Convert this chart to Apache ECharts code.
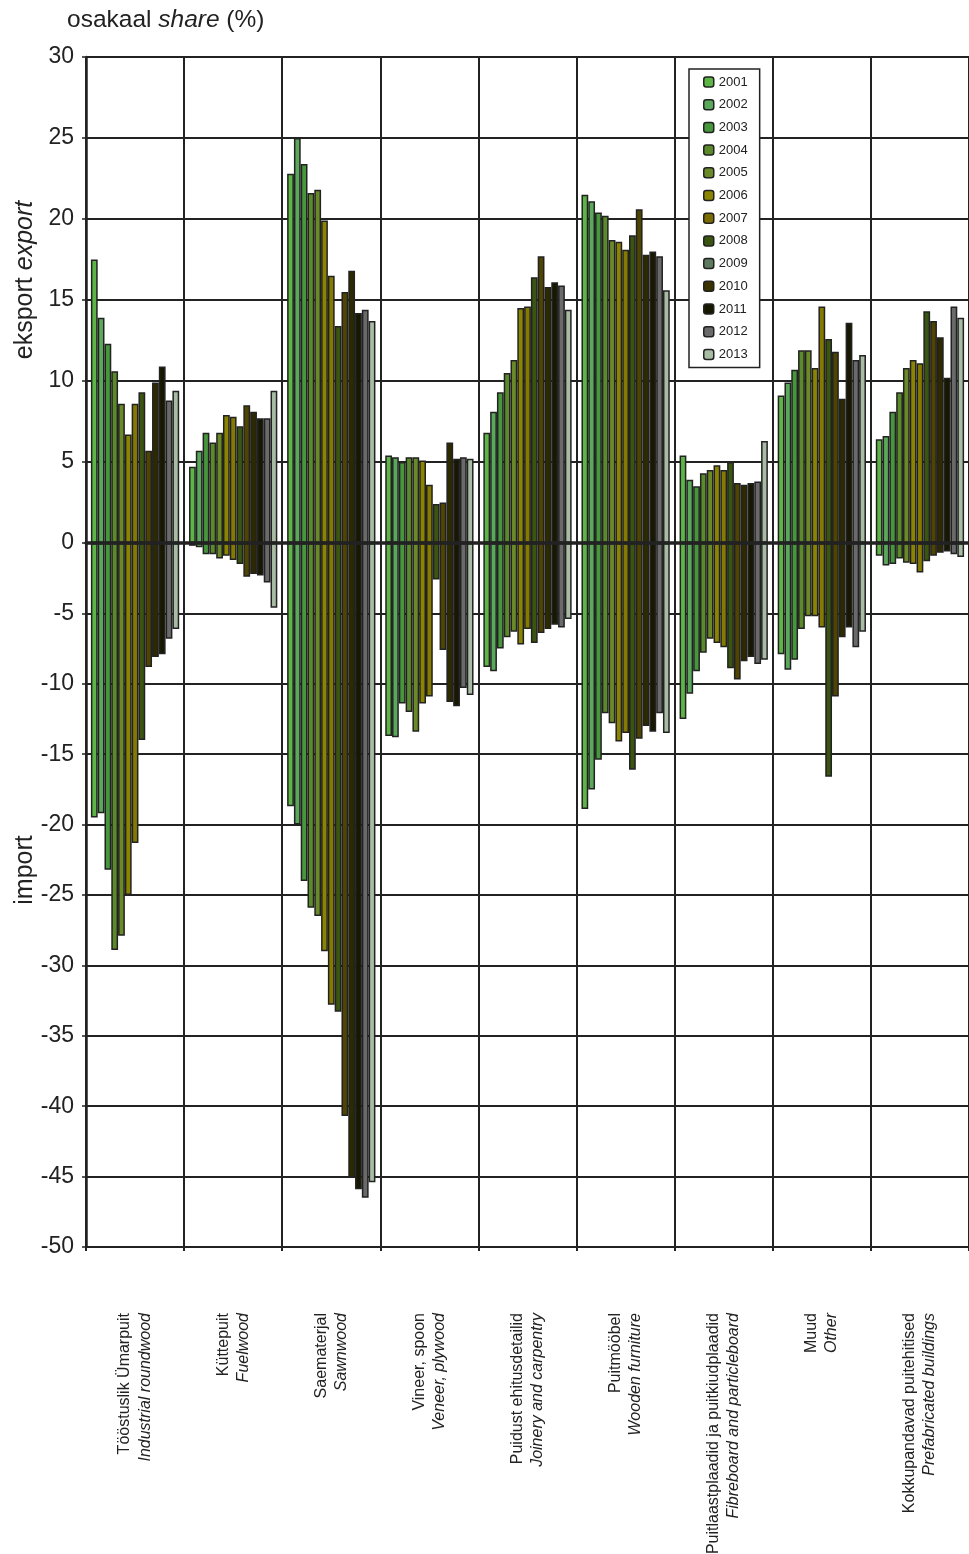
<!DOCTYPE html>
<html>
<head>
<meta charset="utf-8">
<script src="https://cdn.jsdelivr.net/npm/echarts@6/dist/echarts.min.js"></script>
<style>
  html, body { margin: 0; padding: 0; background: #fff; }
  #chart { width: 969px; height: 1554px; }
</style>
</head>
<body>
<div id="chart"></div>
<script>
const years = ['2001', '2002', '2003', '2004', '2005', '2006', '2007', '2008', '2009', '2010', '2011', '2012', '2013'];
const catEt = ['Tööstuslik Ümarpuit', 'Küttepuit', 'Saematerjal', 'Vineer, spoon', 'Puidust ehitusdetailid',
  'Puitmööbel', 'Puitlaastplaadid ja puitkiudplaadid', 'Muud', 'Kokkupandavad puitehitised'];
const catEn = ['Industrial roundwood', 'Fuelwood', 'Sawnwood', 'Veneer, plywood', 'Joinery and carpentry',
  'Wooden furniture', 'Fibreboard and particleboard', 'Other', 'Prefabricated buildings'];

// export share (%) by year 2001..2013
const expRoundwood = [17.5, 13.9, 12.3, 10.6, 8.6, 6.7, 8.6, 9.3, 5.7, 9.9, 10.9, 8.8, 9.4];
const expFuelwood = [4.7, 5.7, 6.8, 6.2, 6.8, 7.9, 7.8, 7.2, 8.5, 8.1, 7.7, 7.7, 9.4];
const expSawnwood = [22.8, 25.0, 23.4, 21.6, 21.8, 19.9, 16.5, 13.4, 15.5, 16.8, 14.2, 14.4, 13.7];
const expVeneer = [5.4, 5.3, 5.0, 5.3, 5.3, 5.1, 3.6, 2.4, 2.5, 6.2, 5.2, 5.3, 5.2];
const expJoinery = [6.8, 8.1, 9.3, 10.5, 11.3, 14.5, 14.6, 16.4, 17.7, 15.8, 16.1, 15.9, 14.4];
const expFurniture = [21.5, 21.1, 20.4, 20.2, 18.7, 18.6, 18.1, 19.0, 20.6, 17.8, 18.0, 17.7, 15.6];
const expFibreboard = [5.4, 3.9, 3.5, 4.3, 4.5, 4.8, 4.5, 5.0, 3.7, 3.6, 3.7, 3.8, 6.3];
const expOther = [9.1, 9.9, 10.7, 11.9, 11.9, 10.8, 14.6, 12.6, 11.8, 8.9, 13.6, 11.3, 11.6];
const expPrefab = [6.4, 6.6, 8.1, 9.3, 10.8, 11.3, 11.1, 14.3, 13.7, 12.7, 10.2, 14.6, 13.9];

// import share (%) by year 2001..2013
const impRoundwood = [-19.5, -19.2, -23.2, -28.9, -27.9, -25.0, -21.3, -14.0, -8.8, -8.1, -7.9, -6.8, -6.1];
const impFuelwood = [-0.2, -0.3, -0.8, -0.8, -1.1, -0.9, -1.2, -1.5, -2.4, -2.2, -2.3, -2.8, -4.6];
const impSawnwood = [-18.7, -20.0, -24.0, -25.9, -26.5, -29.0, -32.8, -33.3, -40.7, -45.1, -45.9, -46.5, -45.4];
const impVeneer = [-13.7, -13.8, -11.4, -12.0, -13.4, -11.4, -10.9, -2.6, -7.6, -11.3, -11.6, -10.3, -10.8];
const impJoinery = [-8.8, -9.1, -7.5, -6.7, -6.3, -7.2, -6.1, -7.1, -6.4, -6.1, -5.8, -6.0, -5.4];
const impFurniture = [-18.9, -17.5, -15.4, -12.1, -12.8, -14.1, -13.5, -16.1, -13.9, -13.0, -13.4, -12.1, -13.5];
const impFibreboard = [-12.5, -10.7, -9.1, -7.8, -6.8, -7.1, -7.4, -8.9, -9.7, -8.4, -8.1, -8.6, -8.3];
const impOther = [-7.9, -9.0, -8.3, -6.1, -5.2, -5.2, -6.0, -16.6, -10.9, -6.7, -6.0, -7.4, -6.3];
const impPrefab = [-0.9, -1.6, -1.5, -1.1, -1.4, -1.5, -2.1, -1.3, -0.9, -0.7, -0.6, -0.8, -1.0];

const exportRows = [expRoundwood, expFuelwood, expSawnwood, expVeneer, expJoinery, expFurniture, expFibreboard, expOther, expPrefab];
const importRows = [impRoundwood, impFuelwood, impSawnwood, impVeneer, impJoinery, impFurniture, impFibreboard, impOther, impPrefab];

const barColors = ['#5cb545', '#5aa85a', '#46963c', '#5b8a2a', '#6a8a28', '#8a8400', '#857a00',
  '#3a5510', '#4f4500', '#2d2a00', '#181800', '#6a6a6a', '#a8bca4'];
const legendColors = ['#5cb545', '#5aa85a', '#46963c', '#5b8a2a', '#6a8a28', '#8a8400', '#7a6c00',
  '#3a5510', '#5e7a5e', '#3a3300', '#181800', '#6a6a6a', '#a8bca4'];

const FONT = '"Liberation Sans", Arial, sans-serif';
const INK = '#222';

const chart = echarts.init(document.getElementById('chart'), null, { renderer: 'canvas' });

function makeSeries(rows, gridIdx) {
  return years.map((yr, i) => ({
    name: yr,
    type: 'bar',
    xAxisIndex: gridIdx,
    yAxisIndex: gridIdx,
    data: rows.map((r) => r[i]),
    barGap: '0%',
    barCategoryGap: '10%',
    itemStyle: { color: barColors[i], borderColor: INK, borderWidth: 1.5 },
    emphasis: { disabled: true },
    z: 1,
  }));
}

const gridLine = { show: true, interval: 0, lineStyle: { color: INK, width: 2 } };

chart.setOption({
  animation: false,
  textStyle: { fontFamily: FONT },
  grid: [
    { left: 86, right: 0, top: 57, height: 486, outerBoundsMode: 'none' },
    { left: 86, right: 0, top: 543, height: 704, outerBoundsMode: 'none' },
  ],
  legend: {
    orient: 'vertical',
    left: 689,
    top: 69,
    backgroundColor: '#fff',
    borderColor: INK,
    borderWidth: 1.5,
    padding: [6, 12, 6, 14],
    itemWidth: 10,
    itemHeight: 10,
    itemGap: 8.7,
    z: 10,
    textStyle: { fontSize: 13, color: INK, lineHeight: 14, fontFamily: FONT },
    data: years.map((yr, i) => ({
      name: yr,
      itemStyle: { color: legendColors[i], borderColor: INK, borderWidth: 1.5 },
    })),
  },
  xAxis: [
    {
      type: 'category', gridIndex: 0, data: catEn,
      axisLine: { show: true, onZero: false, lineStyle: { color: INK, width: 3.5 } },
      axisTick: { show: false, interval: 0 },
      axisLabel: { show: false, interval: 0 },
      splitLine: gridLine,
      z: 5,
    },
    {
      type: 'category', gridIndex: 1, data: catEn,
      axisLine: { show: true, onZero: false, lineStyle: { color: INK, width: 2 } },
      axisTick: { show: true, interval: 0, length: 4, lineStyle: { color: INK, width: 2 } },
      splitLine: gridLine,
      axisLabel: {
        rotate: 90,
        margin: 66,
        interval: 0,
        color: INK,
        fontSize: 16,
        lineHeight: 20,
        formatter: (v, idx) => catEt[idx] + '\n{i|' + v + '}',
        rich: { i: { fontStyle: 'italic', fontSize: 16, lineHeight: 20, color: INK } },
      },
    },
  ],
  yAxis: [
    {
      type: 'value', gridIndex: 0, min: 0, max: 30, interval: 5,
      axisLine: { show: true, lineStyle: { color: INK, width: 2.5 } },
      axisTick: { show: true, length: 4, lineStyle: { color: INK, width: 1.5 } },
      axisLabel: { fontSize: 23, color: INK, margin: 12 },
      splitLine: gridLine,
    },
    {
      type: 'value', gridIndex: 1, min: -50, max: 0, interval: 5,
      axisLine: { show: true, lineStyle: { color: INK, width: 2.5 } },
      axisTick: { show: true, length: 4, lineStyle: { color: INK, width: 1.5 } },
      axisLabel: {
        fontSize: 23, color: INK, margin: 12,
        showMaxLabel: false,
        formatter: (v) => (v === 0 ? '' : String(v)),
      },
      splitLine: gridLine,
    },
  ],
  graphic: [
    {
      type: 'text', left: 67, top: 8,
      style: {
        text: 'osakaal {i|share} (%)',
        font: '24.5px ' + FONT, fill: INK,
        rich: { i: { fontStyle: 'italic', fontSize: 24.5, fontFamily: FONT, fill: INK } },
      },
    },
    {
      type: 'text', x: 25, y: 280, rotation: Math.PI / 2,
      style: {
        text: 'eksport {i|export}', font: '25px ' + FONT, fill: INK,
        align: 'center', verticalAlign: 'middle',
        rich: { i: { fontStyle: 'italic', fontSize: 25, fontFamily: FONT, fill: INK } },
      },
    },
    {
      type: 'text', x: 25, y: 870, rotation: Math.PI / 2,
      style: { text: 'import', font: '25px ' + FONT, fill: INK, align: 'center', verticalAlign: 'middle' },
    },
  ],
  series: [...makeSeries(exportRows, 0), ...makeSeries(importRows, 1)],
});
</script>
</body>
</html>
